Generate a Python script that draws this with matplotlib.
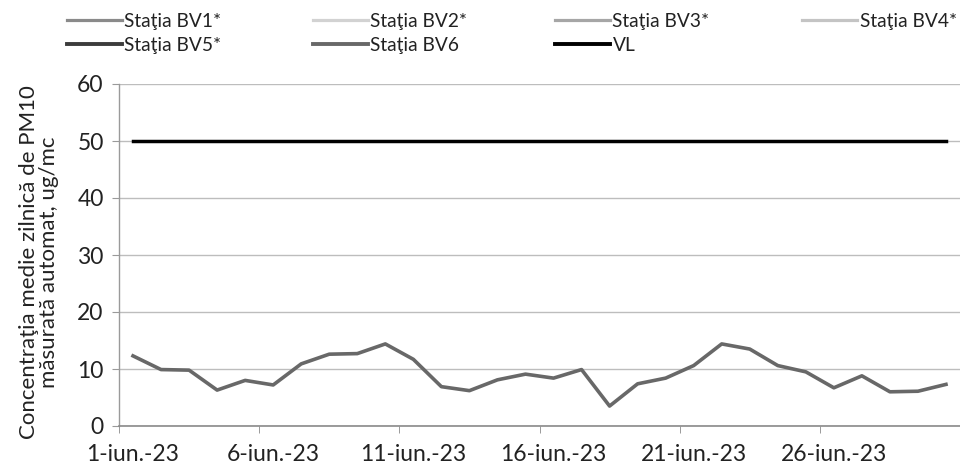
import matplotlib
matplotlib.use("Agg")
import matplotlib.pyplot as plt
from matplotlib.lines import Line2D

plt.rcParams['font.family'] = ['Lato', 'DejaVu Sans']

# ---- data ----
dates = [f"{d}-iun.-23" for d in range(1, 31)]
day_index = list(range(1, 31))
bv6 = [12.3, 9.9, 9.8, 6.3, 8.0, 7.2, 10.9, 12.6, 12.7, 14.4,
       11.7, 6.9, 6.2, 8.1, 9.1, 8.4, 9.9, 3.5, 7.4, 8.4,
       10.6, 14.4, 13.5, 10.6, 9.5, 6.7, 8.8, 6.0, 6.1, 7.3]
vl = [50, 50, 50, 50, 50, 50, 50, 50, 50, 50,
      50, 50, 50, 50, 50, 50, 50, 50, 50, 50,
      50, 50, 50, 50, 50, 50, 50, 50, 50, 50]
series_names = ["Staţia BV1*", "Staţia BV2*", "Staţia BV3*", "Staţia BV4*",
                "Staţia BV5*", "Staţia BV6", "VL"]
series_colors = ["#8a8a8a", "#d2d2d2", "#a6a6a6", "#c4c4c4",
                 "#3c3c3c", "#686868", "#000000"]
y_ticks = [0, 10, 20, 30, 40, 50, 60]
y_label = "Concentraţia medie zilnică de PM10\nmăsurată automat, ug/mc"

W, H = 960, 468
fig = plt.figure(figsize=(W / 100, H / 100), dpi=100)
fig.patch.set_facecolor("white")

left_px, right_px, top_px, bot_px = 119, 960, 84, 426
ax = fig.add_axes([left_px / W, 1 - bot_px / H,
                   (right_px - left_px) / W, (bot_px - top_px) / H])

ax.plot(day_index, bv6, color=series_colors[5], lw=2.6, solid_joinstyle="round", zorder=3)
ax.plot(day_index, vl, color=series_colors[6], lw=2.5, zorder=3)

px_per_day = 28.4
ax.set_xlim(0.5, 0.5 + (right_px - left_px) / px_per_day)
ax.set_ylim(0, 60)
ax.set_yticks(y_ticks)

for s in ["top", "right"]:
    ax.spines[s].set_visible(False)
ax.spines["left"].set_color("#9a9a9a")
ax.spines["bottom"].set_color("#8a8a8a")
ax.spines["left"].set_linewidth(1.0)
ax.spines["bottom"].set_linewidth(1.2)

ax.grid(axis="y", color="#bdbdbd", lw=1.0)
ax.set_axisbelow(True)

# x labels every 5 days, tick marks between categories
ax.set_xticks(day_index[::5])
ax.set_xticklabels(dates[::5])
ax.set_xticks([d - 0.5 for d in day_index[::5]] + [30.5], minor=True)
ax.tick_params(axis="x", which="major", length=0, pad=13, labelsize=16.5, labelcolor="#222222")
ax.tick_params(axis="x", which="minor", length=5, color="#8a8a8a", direction="out")
ax.tick_params(axis="y", length=5, color="#9a9a9a", pad=6, labelsize=16.5, labelcolor="#222222")

fig.text(39 / W, 1 - 262 / H, y_label, rotation=90, ha="center", va="center",
         multialignment="center", fontsize=16, color="#222222", linespacing=1.05)

# legend: 4 columns placed like the original
col_x = [67, 313, 555, 802]
col_items = [[0, 4], [1, 5], [2, 6], [3]]
for cx, items in zip(col_x, col_items):
    handles = [Line2D([], [], color=series_colors[i],
                      lw=2.8 if i in (4, 5, 6) else 2.3) for i in items]
    labels = [series_names[i] for i in items]
    fig.legend(handles, labels, loc="upper left",
               bbox_to_anchor=(cx / W, 1 - 13 / H), frameon=False,
               fontsize=13.8, handlelength=2.85, handletextpad=0.15,
               labelspacing=0.35, borderpad=0, borderaxespad=0,
               labelcolor="#222222")

fig.savefig("out.png", dpi=100, facecolor="white")
